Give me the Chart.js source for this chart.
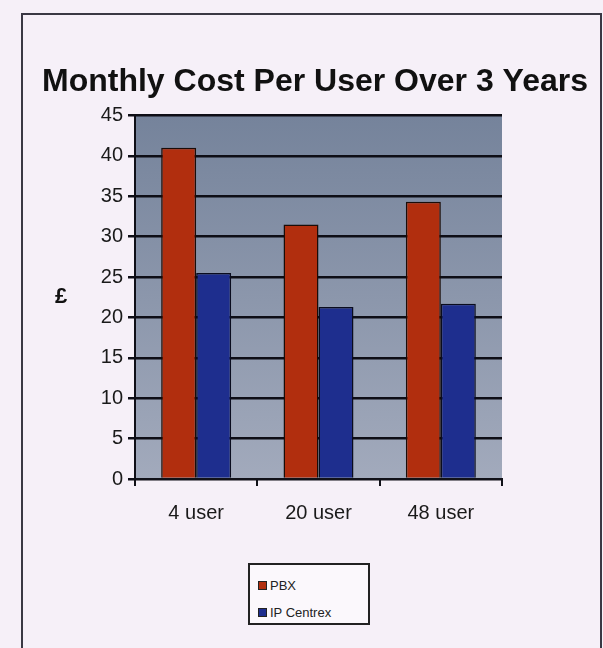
<!DOCTYPE html>
<html>
<head>
<meta charset="utf-8">
<script src="https://cdn.jsdelivr.net/npm/chart.js@4"></script>
<style>
    html, body { margin: 0; padding: 0; background: #f6f0f8; }
    #wrap { position: relative; width: 603px; height: 648px; }
    #frame { position: absolute; left: 21px; top: 13px; width: 577px; height: 660px; border: 2px solid #3a3844; }
    #legend { position: absolute; left: 248px; top: 563px; width: 118px; height: 58px; border: 2px solid #222; background: #fbf8fc;
        font-family: "Liberation Sans", Arial, sans-serif; font-size: 13px; color: #222; }
    #legend .item { position: absolute; left: 8px; display: flex; align-items: center; }
    #legend .box { width: 7px; height: 7px; margin-right: 3px; border: 1px solid #222; }
</style>
</head>
<body>
<div id="wrap">
    <div id="frame"></div>
    <canvas id="costChart" width="603" height="648"></canvas>
    <div id="legend"></div>
</div>
<script>
// data
var categories = ['4 user', '20 user', '48 user'];
var pbxValues = [41, 31.5, 34.3];
var centrexValues = [25.5, 21.3, 21.7];
var seriesNames = ['PBX', 'IP Centrex'];
var yTicks = [0, 5, 10, 15, 20, 25, 30, 35, 40, 45];

document.addEventListener('DOMContentLoaded', function () {
    var ctx = document.getElementById('costChart').getContext('2d');

    // plot area fill, drawn before the grid
    var plotBackground = {
        id: 'plotBackground',
        beforeDraw: function (chart) {
            var a = chart.chartArea;
            var c = chart.ctx;
            var g = c.createLinearGradient(0, a.top, 0, a.bottom);
            g.addColorStop(0, '#75839b');
            g.addColorStop(1, '#a2aabc');
            c.save();
            c.fillStyle = g;
            c.fillRect(a.left, a.top, a.right - a.left, a.bottom - a.top);
            c.restore();
        }
    };

    // the title is centred over the whole frame, not just the plot
    var centerTitle = {
        id: 'centerTitle',
        afterLayout: function (chart) {
            var t = chart.titleBlock;
            t.left = 30;
            t.right = 600;
            t.width = 570;
        }
    };

    // y axis title is upright in the original
    var uprightYTitle = {
        id: 'uprightYTitle',
        afterDraw: function (chart) {
            var opts = chart.options.scales.y.title;
            var c = chart.ctx;
            var a = chart.chartArea;
            c.save();
            c.font = 'bold 22px "Liberation Sans", Arial, sans-serif';
            c.fillStyle = '#111';
            c.textAlign = 'center';
            c.textBaseline = 'middle';
            c.fillText(opts.text, 61, (a.top + a.bottom) / 2);
            c.restore();
        }
    };

    var costChart = new Chart(ctx, {
        type: 'bar',
        data: {
            labels: categories,
            datasets: [{
                label: seriesNames[0],
                data: pbxValues,
                backgroundColor: '#b12e0e',
                borderColor: '#1a0c08',
                borderWidth: 1.5
            }, {
                label: seriesNames[1],
                data: centrexValues,
                backgroundColor: '#1e2e8e',
                borderColor: '#0a0c1e',
                borderWidth: 1.5
            }]
        },
        plugins: [plotBackground, centerTitle, uprightYTitle],
        options: {
            responsive: false,
            animation: false,
            layout: {
                padding: { left: 35, right: 101, top: 0, bottom: 119 }
            },
            datasets: {
                bar: { categoryPercentage: 0.572, barPercentage: 1 }
            },
            plugins: {
                legend: { display: false },
                tooltip: { enabled: false },
                title: {
                    display: true,
                    text: 'Monthly Cost Per User Over 3 Years',
                    color: '#111',
                    font: { family: '"Liberation Sans", Arial, sans-serif', size: 32, weight: 'bold' },
                    padding: { top: 63, bottom: 14 }
                }
            },
            scales: {
                x: {
                    grid: {
                        drawOnChartArea: false,
                        drawTicks: true,
                        tickLength: 7,
                        color: '#111118',
                        lineWidth: 2
                    },
                    border: { color: '#111118', width: 2 },
                    ticks: {
                        color: '#1a1a1a',
                        padding: 15,
                        font: { family: '"Liberation Sans", Arial, sans-serif', size: 20 }
                    },
                    afterFit: function (scale) { scale.height = 50; }
                },
                y: {
                    min: 0,
                    max: 45,
                    afterBuildTicks: function (scale) {
                        scale.ticks = yTicks.map(function (v) { return { value: v }; });
                    },
                    grid: {
                        color: '#0e0e16',
                        lineWidth: 2.5,
                        tickLength: 7
                    },
                    border: { color: '#0e0e16', width: 2 },
                    ticks: {
                        color: '#1a1a1a',
                        padding: 5,
                        font: { family: '"Liberation Sans", Arial, sans-serif', size: 20 }
                    },
                    title: { display: false, text: '£' },
                    afterFit: function (scale) { scale.width = 100; }
                }
            }
        }
    });

    // legend box below the chart, built from the chart's own items
    var legend = document.getElementById('legend');
    costChart.data.datasets.forEach(function (ds, i) {
        var item = document.createElement('div');
        item.className = 'item';
        item.style.top = (i === 0 ? 13 : 40) + 'px';
        var box = document.createElement('span');
        box.className = 'box';
        box.style.background = ds.backgroundColor;
        var text = document.createElement('span');
        text.textContent = ds.label;
        item.appendChild(box);
        item.appendChild(text);
        legend.appendChild(item);
    });
});
</script>
</body>
</html>
